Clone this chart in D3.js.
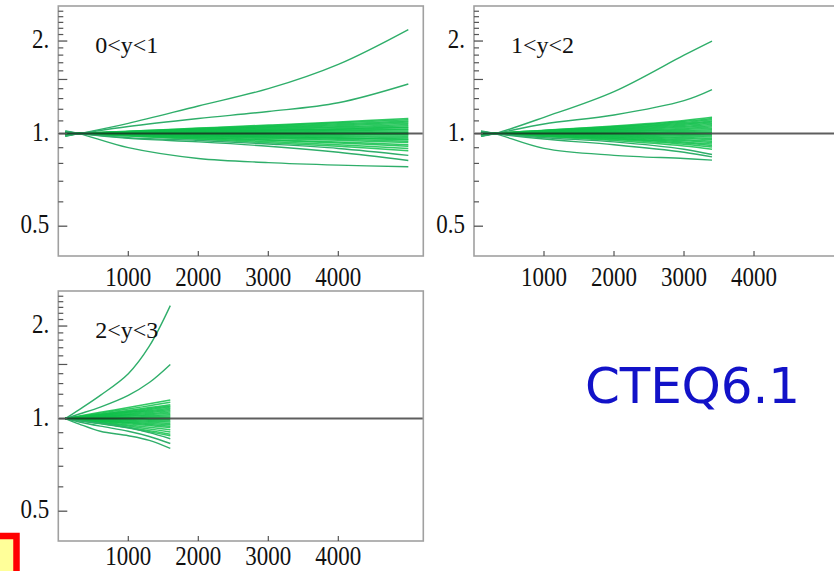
<!DOCTYPE html>
<html><head><meta charset="utf-8">
<script src="https://cdn.jsdelivr.net/npm/d3@7"></script>
<style>html,body{margin:0;padding:0;background:#fff;overflow:hidden}</style>
</head><body>
<svg id="c" width="834" height="571"></svg>
<script>
// ---- data ----
const panelLabels = ["0<y<1", "1<y<2", "2<y<3"];
const xTicks = [1000, 2000, 3000, 4000];
const yMajorTicks = [0.5, 1, 2];
const yMajorLabels = ["0.5", "1.", "2."];
const yMinorTicks = [0.6,0.7,0.8,0.9,1.1,1.2,1.3,1.4,1.5,1.6,1.7,1.8,1.9,2.1,2.2,2.3,2.4,2.5];
const noteText = "CTEQ6.1";

// panel 1 (0<y<1)
const xs1 = [100, 300, 1000, 2000, 3000, 4000, 5000];
const outliers1 = [
  [0.98,1,1.08,1.23,1.40,1.68,2.18],
  [0.985,1,1.055,1.12,1.18,1.26,1.45],
  [1.02,1,0.90,0.83,0.805,0.79,0.78],
  [1.015,1,0.965,0.94,0.91,0.87,0.818],
  [1.012,1,0.97,0.95,0.925,0.895,0.85]
];
const band1 = [
  [0.982,1,1.018,1.042,1.066,1.091,1.12],
  [0.984,1,1.017,1.039,1.061,1.084,1.11],
  [0.985,1,1.015,1.035,1.055,1.076,1.10],
  [0.987,1,1.014,1.032,1.050,1.068,1.09],
  [0.988,1,1.012,1.028,1.044,1.061,1.08],
  [0.990,1,1.011,1.025,1.039,1.053,1.07],
  [0.991,1,1.009,1.021,1.033,1.046,1.06],
  [0.993,1,1.008,1.018,1.028,1.038,1.05],
  [0.993,1,1.007,1.016,1.025,1.034,1.045],
  [0.995,1,1.005,1.012,1.019,1.027,1.035],
  [0.996,1,1.005,1.011,1.017,1.023,1.03],
  [0.997,1,1.003,1.007,1.011,1.015,1.02],
  [0.999,1,1.002,1.004,1.006,1.008,1.01],
  [1.0,1,1.001,1.002,1.003,1.004,1.005],
  [1.0,1,0.999,0.998,0.997,0.996,0.995],
  [1.002,1,0.998,0.996,0.994,0.992,0.99],
  [1.003,1,0.997,0.993,0.989,0.985,0.98],
  [1.005,1,0.996,0.990,0.984,0.977,0.97],
  [1.006,1,0.994,0.986,0.978,0.970,0.96],
  [1.007,1,0.993,0.984,0.975,0.966,0.955],
  [1.008,1,0.992,0.981,0.970,0.958,0.945],
  [1.010,1,0.990,0.977,0.964,0.951,0.935],
  [1.012,1,0.988,0.972,0.956,0.939,0.92],
  [1.014,1,0.987,0.969,0.951,0.932,0.91],
  [1.016,1,0.984,0.963,0.942,0.920,0.895],
  [1.018,1,0.982,0.958,0.934,0.909,0.88]
];

// panel 2 (1<y<2)
const xs2 = [100, 300, 1000, 2000, 3000, 3400];
const outliers2 = [
  [0.98,1,1.13,1.37,1.80,2.0],
  [0.985,1,1.075,1.15,1.28,1.39],
  [1.02,1,0.895,0.85,0.83,0.82],
  [1.015,1,0.96,0.92,0.87,0.84],
  [1.012,1,0.97,0.94,0.89,0.855]
];
const band2 = [
  [0.98,1,1.026,1.059,1.104,1.13],
  [0.982,1,1.024,1.054,1.096,1.12],
  [0.984,1,1.022,1.050,1.088,1.11],
  [0.985,1,1.020,1.045,1.080,1.10],
  [0.987,1,1.018,1.041,1.072,1.09],
  [0.988,1,1.016,1.036,1.064,1.08],
  [0.990,1,1.014,1.032,1.056,1.07],
  [0.991,1,1.012,1.027,1.048,1.06],
  [0.993,1,1.010,1.023,1.040,1.05],
  [0.994,1,1.008,1.018,1.032,1.04],
  [0.996,1,1.006,1.014,1.024,1.03],
  [0.997,1,1.004,1.009,1.016,1.02],
  [0.999,1,1.002,1.005,1.008,1.01],
  [1.001,1,0.999,0.998,0.996,0.995],
  [1.002,1,0.997,0.993,0.988,0.985],
  [1.004,1,0.995,0.989,0.980,0.975],
  [1.005,1,0.993,0.984,0.972,0.965],
  [1.007,1,0.991,0.980,0.964,0.955],
  [1.008,1,0.989,0.975,0.956,0.945],
  [1.010,1,0.987,0.971,0.948,0.935],
  [1.011,1,0.985,0.966,0.940,0.925],
  [1.013,1,0.983,0.962,0.932,0.915],
  [1.014,1,0.981,0.957,0.924,0.905],
  [1.016,1,0.978,0.950,0.912,0.89]
];

// panel 3 (2<y<3)
const xs3 = [100, 300, 600, 1000, 1300, 1600];
const outliers3 = [
  [1,1.07,1.19,1.40,1.72,2.33],
  [1,1.035,1.09,1.19,1.31,1.50],
  [1,0.96,0.91,0.88,0.85,0.80],
  [1,0.975,0.945,0.91,0.875,0.83],
  [1,0.985,0.965,0.935,0.90,0.86]
];
const band3 = [
  [1,1.02,1.048,1.086,1.117,1.15],
  [1,1.017,1.042,1.074,1.101,1.13],
  [1,1.014,1.035,1.063,1.086,1.11],
  [1,1.013,1.032,1.057,1.078,1.10],
  [1,1.012,1.029,1.051,1.070,1.09],
  [1,1.010,1.026,1.046,1.062,1.08],
  [1,1.009,1.022,1.040,1.055,1.07],
  [1,1.008,1.019,1.034,1.047,1.06],
  [1,1.007,1.016,1.029,1.039,1.05],
  [1,1.005,1.013,1.023,1.031,1.04],
  [1,1.004,1.010,1.017,1.023,1.03],
  [1,1.003,1.006,1.011,1.016,1.02],
  [1,1.001,1.003,1.006,1.008,1.01],
  [1,0.999,0.998,0.997,0.996,0.995],
  [1,0.998,0.995,0.991,0.988,0.985],
  [1,0.997,0.992,0.986,0.981,0.975],
  [1,0.995,0.989,0.980,0.973,0.965],
  [1,0.994,0.986,0.974,0.965,0.955],
  [1,0.993,0.982,0.969,0.957,0.945],
  [1,0.992,0.979,0.963,0.949,0.935],
  [1,0.990,0.974,0.954,0.938,0.92],
  [1,0.988,0.970,0.946,0.926,0.905],
  [1,0.986,0.965,0.937,0.914,0.89],
  [1,0.984,0.962,0.932,0.906,0.88]
];

// ---- layout ----
const panels = [
  {left:58.3, top:6,   xs:xs1, band:band1, out:outliers1, label:panelLabels[0], lab:30},
  {left:474,  top:6,   xs:xs2, band:band2, out:outliers2, label:panelLabels[1], lab:30},
  {left:58.3, top:291, xs:xs3, band:band3, out:outliers3, label:panelLabels[2], lab:24}
];
const W = 365, H = 250;
const svg = d3.select("#c");
const serif = "'Liberation Serif','Times New Roman',serif";

panels.forEach(p => {
  const x = d3.scaleLinear().domain([0, 5214]).range([p.left, p.left + W]);
  const y = d3.scaleLog().domain([0.4, 2.6]).range([p.top + H, p.top]);
  const g = svg.append("g");
  const line = d3.line().x((d,i) => x(p.xs[i])).y(d => y(d)).curve(d3.curveCatmullRom.alpha(0.5));

  // green curves
  g.selectAll("path.band").data(p.band).join("path").attr("class","band")
    .attr("d", line).attr("fill","none").attr("stroke","#0fbf4a")
    .attr("stroke-width",1.5).attr("stroke-opacity",0.85);
  g.selectAll("path.out").data(p.out).join("path").attr("class","out")
    .attr("d", line).attr("fill","none").attr("stroke","#2fae6a")
    .attr("stroke-width",1.4);

  // reference line at 1
  g.append("line").attr("x1", x(0)).attr("x2", x(5214))
    .attr("y1", y(1)).attr("y2", y(1))
    .attr("stroke","#1a1a1a").attr("stroke-opacity",0.7).attr("stroke-width",2);

  // frame
  g.append("rect").attr("x", p.left).attr("y", p.top).attr("width", W).attr("height", H)
    .attr("fill","none").attr("stroke","#a0a0a0").attr("stroke-width",1.6);

  // y ticks
  g.selectAll("line.ymin").data(yMinorTicks).join("line").attr("class","ymin")
    .attr("x1", p.left).attr("x2", d => p.left + (d === 1.5 ? 9 : 5))
    .attr("y1", d => y(d)).attr("y2", d => y(d))
    .attr("stroke","#555").attr("stroke-width",1.2);
  g.selectAll("line.ymaj").data(yMajorTicks).join("line").attr("class","ymaj")
    .attr("x1", p.left).attr("x2", p.left + 9)
    .attr("y1", d => y(d)).attr("y2", d => y(d))
    .attr("stroke","#555").attr("stroke-width",1.3);
  g.selectAll("text.ylab").data(yMajorTicks).join("text").attr("class","ylab")
    .attr("transform", d => `translate(${p.left - 9},${y(d) + 7}) scale(1,1.15)`)
    .attr("text-anchor","end").attr("font-family",serif).attr("font-size",23)
    .attr("fill","#111").text((d,i) => yMajorLabels[i]);

  // x ticks
  g.selectAll("line.xt").data(xTicks).join("line").attr("class","xt")
    .attr("x1", d => x(d)).attr("x2", d => x(d))
    .attr("y1", p.top + H).attr("y2", p.top + H - 5)
    .attr("stroke","#555").attr("stroke-width",1.2);
  g.selectAll("text.xlab").data(xTicks).join("text").attr("class","xlab")
    .attr("transform", d => `translate(${x(d)},${p.top + H + p.lab}) scale(1,1.15)`)
    .attr("text-anchor","middle").attr("font-family",serif).attr("font-size",23)
    .attr("fill","#111").text(d => d);

  // panel label
  g.append("text").attr("x", p.left + 37).attr("y", p.top + 47)
    .attr("font-family",serif).attr("font-size",24).attr("fill","#111").text(p.label);
});

// note
svg.append("text").attr("x", 585).attr("y", 403)
  .attr("font-family","'DejaVu Sans',sans-serif").attr("font-size",50)
  .attr("fill","#1212c8").attr("textLength",215).text(noteText);

// red box in bottom-left corner
svg.append("rect").attr("x",-20).attr("y",536).attr("width",36.5).attr("height",60)
  .attr("fill","#ffff99").attr("stroke","#ff0000").attr("stroke-width",6.5);
</script>
</body></html>
